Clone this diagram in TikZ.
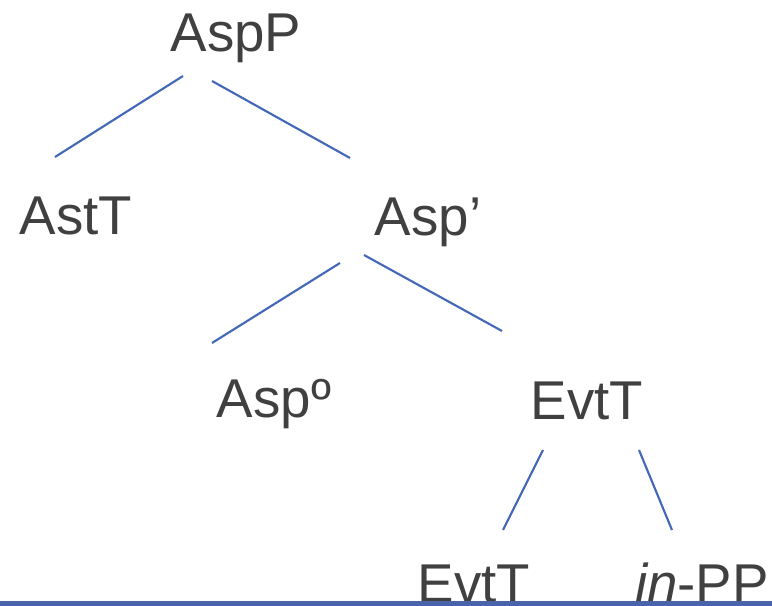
\documentclass[tikz,border=0pt]{standalone}
\usepackage{fontspec}
\setmainfont{Liberation Sans}
\definecolor{treeblue}{HTML}{4468B8}
\definecolor{bargblue}{HTML}{4A64AA}
\definecolor{labelgray}{HTML}{404040}
\begin{document}
\begin{tikzpicture}[x=0.75pt,y=-0.75pt,
	lbl/.style={anchor=base, inner sep=0pt, text=labelgray, font=\fontsize{41}{48}\selectfont},
	branch/.style={treeblue, line width=1.6pt}]
	\useasboundingbox (0,0) rectangle (772,606);
	\clip (0,0) rectangle (772,606);
	% labels
	\node [lbl] (aspP) at (236,52) {AspP};
	\node [lbl] (astT) at (76,235) {AstT};
	\node [lbl] (aspBar) at (428,236) {Asp’};
	\node [lbl] (aspHead) at (274,417) {Aspº};
	\node [lbl] (evtT) at (587,419) {EvtT};
	\node [lbl] (evtTlow) at (474,602) {EvtT};
	\node [lbl] (inPP) at (702,602) {\textit{in}-PP};
	% branch ends
	\coordinate (aspP-l) at (183,76);
	\coordinate (aspP-r) at (212,81);
	\coordinate (astT-t) at (55,157);
	\coordinate (aspBar-t) at (350,158);
	\coordinate (aspBar-l) at (340,263);
	\coordinate (aspBar-r) at (364,255);
	\coordinate (aspHead-t) at (212,343);
	\coordinate (evtT-t) at (502,331);
	\coordinate (evtT-l) at (543,450);
	\coordinate (evtT-r) at (639,450);
	\coordinate (evtTlow-t) at (503,530);
	\coordinate (inPP-t) at (672,530);
	\draw [branch] (aspP-l) -- (astT-t);
	\draw [branch] (aspP-r) -- (aspBar-t);
	\draw [branch] (aspBar-l) -- (aspHead-t);
	\draw [branch] (aspBar-r) -- (evtT-t);
	\draw [branch] (evtT-l) -- (evtTlow-t);
	\draw [branch] (evtT-r) -- (inPP-t);
	% bar at the bottom
	\fill [bargblue] (0,601) rectangle (772,606);
\end{tikzpicture}
\end{document}
